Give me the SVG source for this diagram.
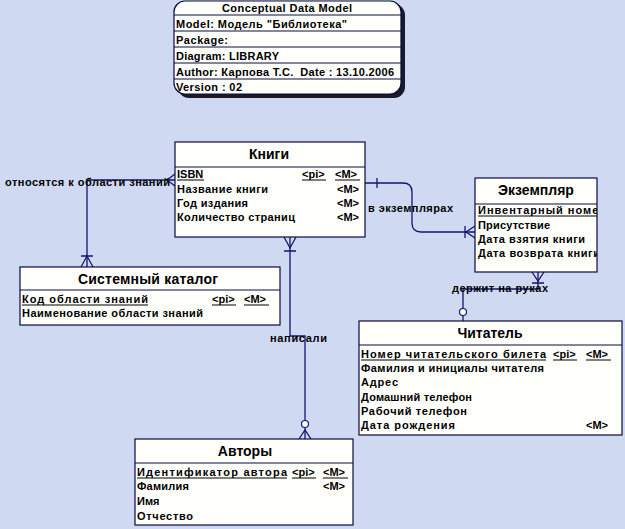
<svg xmlns="http://www.w3.org/2000/svg" width="625" height="529" viewBox="0 0 625 529">
<style>
.bg{fill:#cfdaf2}
.box{fill:#fffffb;stroke:#0a0a3c;stroke-width:1.2}
.sep{stroke:#0a0a3c;stroke-width:1}
.t{font-family:"Liberation Sans",Arial,sans-serif;font-size:11px;font-weight:bold;fill:#000}
.h{font-family:"Liberation Sans",Arial,sans-serif;font-size:14px;font-weight:bold;fill:#000;text-anchor:middle}
.ul{stroke:#000;stroke-width:1}
.c{fill:none;stroke:#14146e;stroke-width:1.3}
.ci{fill:#fff;stroke:#14146e;stroke-width:1.2}
.lb{font-family:"Liberation Sans",Arial,sans-serif;font-size:11px;font-weight:bold;fill:#000}
</style>
<defs>
<clipPath id="clipEx"><rect x="475" y="178" width="122" height="94"/></clipPath>
</defs>
<rect class="bg" x="0" y="0" width="625" height="529"/>

<g id="model-info">
<rect x="178" y="4" width="227" height="94" rx="11" fill="#1a1a2a"/>
<rect x="174" y="1" width="227" height="93" rx="11" fill="#fffffb" stroke="#0a0a3c" stroke-width="1.2"/>
<line class="sep" x1="174" y1="15" x2="401" y2="15"/>
<line class="sep" x1="174" y1="31" x2="401" y2="31"/>
<line class="sep" x1="174" y1="47" x2="401" y2="47"/>
<line class="sep" x1="174" y1="63" x2="401" y2="63"/>
<line class="sep" x1="174" y1="79" x2="401" y2="79"/>
<text class="t" x="222" y="11.5" textLength="130" lengthAdjust="spacing">Conceptual Data Model</text>
<text class="t" x="176" y="27.5" textLength="171" lengthAdjust="spacing">Model: Модель "Библиотека"</text>
<text class="t" x="176" y="43.5" textLength="52">Package:</text>
<text class="t" x="176" y="59.5" textLength="103" lengthAdjust="spacing">Diagram: LIBRARY</text>
<text class="t" x="176" y="75.5" textLength="218" lengthAdjust="spacing">Author: Карпова Т.С.&#160; Date : 13.10.2006</text>
<text class="t" x="176" y="91" textLength="66" lengthAdjust="spacing">Version : 02</text>
</g>

<g id="connectors">
<!-- Книги - Системный каталог -->
<path class="c" d="M175,180 H87 V267"/>
<path class="c" d="M175,174 L167,180 L175,186"/>
<path class="c" d="M81,267 L87,256 L93,267 M81,256 H93"/>
<!-- Книги - Экземпляр -->
<path class="c" d="M365,183 H403 Q412,183 412,192 V223 Q412,232 421,232 H475"/>
<path class="c" d="M377,178 V188"/>
<path class="c" d="M475,226 L466,232 L475,238 M465,226 V238"/>
<!-- Книги - Авторы -->
<path class="c" d="M290,237 V336 H305 V439"/>
<path class="c" d="M284,237 L290,248 L296,237 M284,251 H296"/>
<circle class="ci" cx="305" cy="424" r="3.5"/>
<path class="c" d="M299,439 L305,430 L311,439"/>
<!-- Экземпляр - Читатель -->
<path class="c" d="M538,272 V289 H463 V321"/>
<path class="c" d="M532,272 L538,281 L544,272 M532,283 H544"/>
<circle class="ci" cx="463" cy="312" r="3.5"/>
<!-- labels -->
<text class="lb" x="5" y="186" textLength="165" lengthAdjust="spacing">относятся к области знаний</text>
<text class="lb" x="368" y="212" textLength="85" lengthAdjust="spacing">в экземплярах</text>
<text class="lb" x="270" y="342" textLength="57" lengthAdjust="spacing">написали</text>
<text class="lb" x="452" y="292" textLength="96" lengthAdjust="spacing">держит на руках</text>
</g>

<g id="knigi">
<rect class="box" x="175" y="142" width="190" height="95"/>
<line class="sep" x1="175" y1="167" x2="365" y2="167"/>
<text class="h" x="269" y="159">Книги</text>
<text class="t" x="177" y="178">ISBN</text>
<line class="ul" x1="177" y1="180" x2="204" y2="180"/>
<text class="t" x="302" y="178">&lt;pi&gt;</text>
<line class="ul" x1="302" y1="180" x2="326" y2="180"/>
<text class="t" x="335" y="178">&lt;M&gt;</text>
<line class="ul" x1="335" y1="180" x2="360" y2="180"/>
<text class="t" x="177" y="193" textLength="91" lengthAdjust="spacing">Название книги</text>
<text class="t" x="337" y="193">&lt;M&gt;</text>
<text class="t" x="177" y="207" textLength="71" lengthAdjust="spacing">Год издания</text>
<text class="t" x="337" y="207">&lt;M&gt;</text>
<text class="t" x="177" y="221" textLength="118" lengthAdjust="spacing">Количество страниц</text>
<text class="t" x="337" y="221">&lt;M&gt;</text>
</g>

<g id="ekzemplyar">
<rect class="box" x="475" y="178" width="122" height="94"/>
<line class="sep" x1="475" y1="204" x2="597" y2="204"/>
<text class="h" x="536" y="195">Экземпляр</text>
<g clip-path="url(#clipEx)">
<text class="t" x="478" y="214" textLength="128" lengthAdjust="spacing">Инвентарный номер</text>
<line class="ul" x1="478" y1="216" x2="597" y2="216"/>
<text class="t" x="478" y="229" textLength="72" lengthAdjust="spacing">Присутствие</text>
<text class="t" x="478" y="243" textLength="107" lengthAdjust="spacing">Дата взятия книги</text>
<text class="t" x="478" y="257" textLength="122" lengthAdjust="spacing">Дата возврата книги</text>
</g>
</g>

<g id="sistemny-katalog">
<rect class="box" x="20" y="267" width="260" height="58"/>
<line class="sep" x1="20" y1="290" x2="280" y2="290"/>
<text class="h" x="148" y="284" textLength="140" lengthAdjust="spacing">Системный каталог</text>
<text class="t" x="22" y="303" textLength="126" lengthAdjust="spacing">Код области знаний</text>
<line class="ul" x1="22" y1="305" x2="148" y2="305"/>
<text class="t" x="212" y="303">&lt;pi&gt;</text>
<line class="ul" x1="212" y1="305" x2="236" y2="305"/>
<text class="t" x="244" y="303">&lt;M&gt;</text>
<line class="ul" x1="244" y1="305" x2="269" y2="305"/>
<text class="t" x="22" y="317" textLength="181" lengthAdjust="spacing">Наименование области знаний</text>
</g>

<g id="chitatel">
<rect class="box" x="359" y="321" width="263" height="114"/>
<line class="sep" x1="359" y1="345" x2="622" y2="345"/>
<text class="h" x="490" y="338">Читатель</text>
<text class="t" x="361" y="358" textLength="185" lengthAdjust="spacing">Номер читательского билета</text>
<line class="ul" x1="361" y1="360" x2="546" y2="360"/>
<text class="t" x="553" y="358">&lt;pi&gt;</text>
<line class="ul" x1="553" y1="360" x2="577" y2="360"/>
<text class="t" x="586" y="358">&lt;M&gt;</text>
<line class="ul" x1="586" y1="360" x2="611" y2="360"/>
<text class="t" x="361" y="372" textLength="183" lengthAdjust="spacing">Фамилия и инициалы читателя</text>
<text class="t" x="361" y="386" textLength="37" lengthAdjust="spacing">Адрес</text>
<text class="t" x="361" y="401" textLength="111" lengthAdjust="spacing">Домашний телефон</text>
<text class="t" x="361" y="415" textLength="106" lengthAdjust="spacing">Рабочий телефон</text>
<text class="t" x="361" y="429" textLength="94" lengthAdjust="spacing">Дата рождения</text>
<text class="t" x="586" y="429">&lt;M&gt;</text>
</g>

<g id="avtory">
<rect class="box" x="135" y="439" width="218" height="86"/>
<line class="sep" x1="135" y1="463" x2="353" y2="463"/>
<text class="h" x="245" y="456">Авторы</text>
<text class="t" x="137" y="476" textLength="150" lengthAdjust="spacing">Идентификатор автора</text>
<line class="ul" x1="137" y1="478" x2="287" y2="478"/>
<text class="t" x="292" y="476">&lt;pi&gt;</text>
<line class="ul" x1="292" y1="478" x2="316" y2="478"/>
<text class="t" x="323" y="476">&lt;M&gt;</text>
<line class="ul" x1="323" y1="478" x2="348" y2="478"/>
<text class="t" x="137" y="490" textLength="52" lengthAdjust="spacing">Фамилия</text>
<text class="t" x="323" y="490">&lt;M&gt;</text>
<text class="t" x="137" y="505">Имя</text>
<text class="t" x="137" y="520" textLength="56" lengthAdjust="spacing">Отчество</text>
</g>
</svg>
